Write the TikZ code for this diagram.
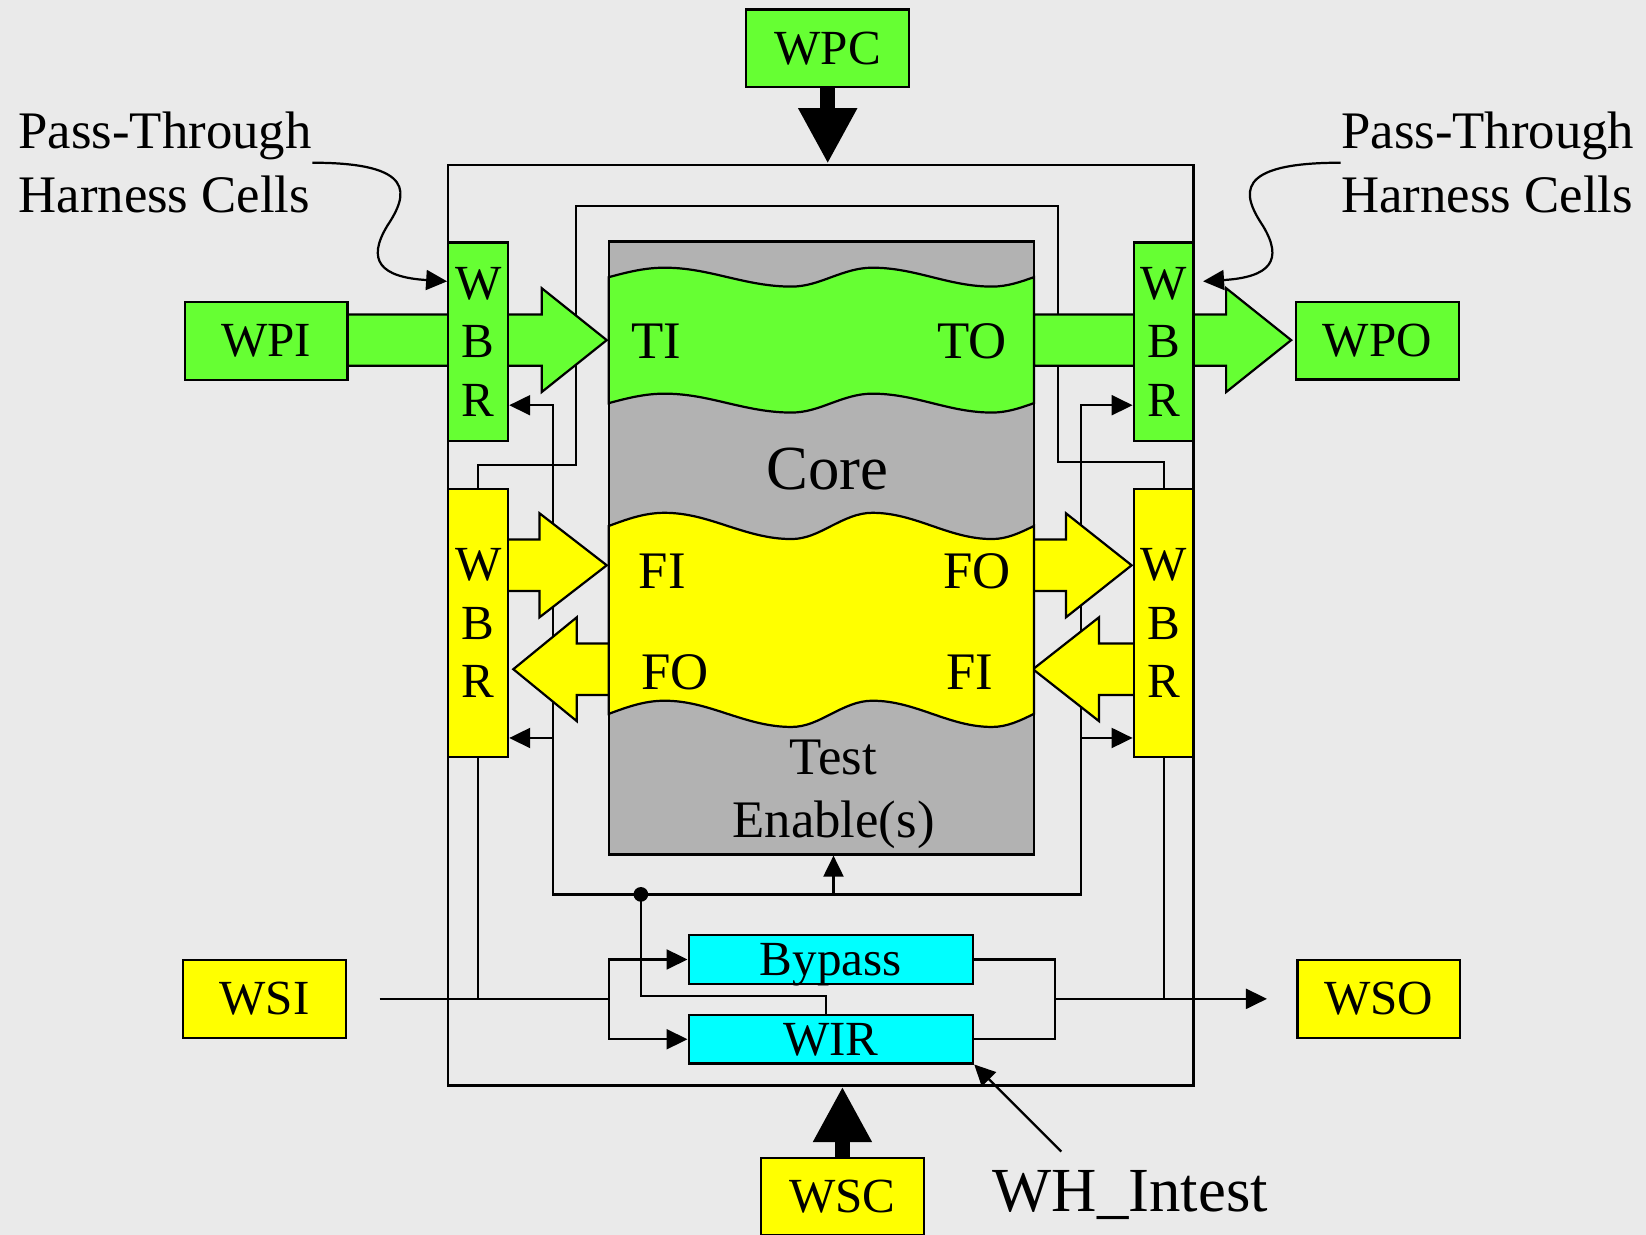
\documentclass[tikz,border=0pt]{standalone}
\usepackage{fontspec}
\setmainfont{Liberation Serif}
\usetikzlibrary{arrows.meta,positioning,calc,backgrounds}
\definecolor{paper}{RGB}{234,234,234}
\definecolor{lime}{RGB}{102,255,51}
\definecolor{sun}{RGB}{255,255,0}
\definecolor{aqua}{RGB}{0,255,255}
\definecolor{ash}{RGB}{178,178,178}
\pgfdeclarelayer{wires}
\pgfsetlayers{background,wires,main}
\tikzset{
  pin/.style={draw,line width=0.6pt,minimum width=15.5mm,minimum height=7.4mm,inner sep=0pt,font=\fontsize{13.3}{16}\selectfont},
  wbr/.style={draw,line width=0.6pt,minimum width=5.7mm,inner sep=0pt,align=center,font=\fontsize{13.3}{15.8}\selectfont},
  reg/.style={draw,line width=0.6pt,fill=aqua,minimum width=27.1mm,minimum height=4.6mm,inner sep=0pt,text depth=0pt,font=\fontsize{13.3}{16}\selectfont},
  blockarrow/.style={draw,line width=0.6pt,line join=miter},
  lbl/.style={inner sep=0pt,font=\fontsize{14.3}{17.4}\selectfont},
  wire/.style={line width=0.6pt},
  fatarrow/.style={line width=1.45mm,-{Triangle[length=5.3mm,width=5.25mm]}}
}
\begin{document}
\begin{tikzpicture}[x=0.1mm,y=-0.1mm,>={Triangle[length=2mm,width=1.9mm]},
    background rectangle/.style={fill=paper},show background rectangle,inner frame sep=0pt]
  \useasboundingbox (0,0) rectangle (1568,1176);
  \node[draw,line width=0.6pt,minimum width=71mm,minimum height=87.7mm,inner sep=0pt] (wrap) at (782,595.5) {};
  % data paths
  \foreach \xs/\xb/\xt/\y/\col in {331/516/578/324/lime,985/1168/1230/324/lime,470/514/578/538.5/sun,
      585/549.5/489/637.5/sun,980/1015.5/1078/538.5/sun,1090/1047/984/637.5/sun}
    \filldraw[blockarrow,fill=\col] (\xs,\y-24.5) -- (\xb,\y-24.5) -- (\xb,\y-49.5) -- (\xt,\y)
      -- (\xb,\y+49.5) -- (\xb,\y+24.5) -- (\xs,\y+24.5) -- cycle;
  \node[draw,line width=0.6pt,fill=ash,minimum width=40.5mm,minimum height=58.4mm,inner sep=0pt] (core) at (782.5,522) {};
  \foreach \t/\b/\a/\col in {264/384/9/lime,501/680/12.5/sun}
    \filldraw[line width=0.6pt,fill=\col] (580,\t) sin (633,\t-\a) cos (693,\t) sin (754,\t+\a) cos (792,\t)
      sin (831,\t-\a) cos (888,\t) sin (945,\t+\a) cos (985,\t) -- (985,\b) sin (945,\b+\a) cos (888,\b)
      sin (831,\b-\a) cos (792,\b) sin (754,\b+\a) cos (693,\b) sin (633,\b-\a) cos (580,\b) -- cycle;
  \node[lbl] (ti) at (625,325) {TI};
  \node[lbl] (to) at (926,325) {TO};
  \node[lbl,font=\fontsize{17}{20}\selectfont] (corelbl) at (788,447) {Core};
  \node[lbl] (fiL) at (631,544) {FI};
  \node[lbl] (foR) at (931,544) {FO};
  \node[lbl] (foL) at (643,640) {FO};
  \node[lbl] (fiR) at (924,640) {FI};
  \node[lbl,align=center,font=\fontsize{14.3}{17.1}\selectfont] (te) at (794,757) {Test\\Enable(s)};
  % wrapper boundary register
  \node[wbr,fill=lime,minimum height=18.9mm] (wbrTL) at (455.5,325.5) {W\\B\\R};
  \node[wbr,fill=lime,minimum height=18.9mm] (wbrTR) at (1108.5,325.5) {W\\B\\R};
  \node[wbr,fill=sun,minimum height=25.5mm] (wbrFL) at (455.5,593.5) {W\\B\\R};
  \node[wbr,fill=sun,minimum height=25.5mm] (wbrFR) at (1108.5,593.5) {W\\B\\R};
  % terminals
  \node[pin,fill=lime] (wpc) at (788.5,46) {WPC};
  \node[pin,fill=lime] (wpi) at (253.5,325) {WPI};
  \node[pin,fill=lime] (wpo) at (1312,324.5) {WPO};
  \node[pin,fill=sun] (wsi) at (252,951.5) {WSI};
  \node[pin,fill=sun] (wso) at (1313.5,951.5) {WSO};
  \node[pin,fill=sun] (wsc) at (802.5,1140) {WSC};
  \draw[fatarrow] (wpc.south) -- (wpc.south |- wrap.north);
  \draw[fatarrow] (wsc.north) -- (wsc.north |- wrap.south);
  \node[reg] (bypass) at (791.5,914) {Bypass};
  \node[reg] (wir) at (791.5,990) {WIR};
  % callouts
  \node[lbl,anchor=west,align=left] (ptl) at (17,155) {Pass-Through\\Harness Cells};
  \node[lbl,anchor=west,align=left] (ptr) at (1277,155) {Pass-Through\\Harness Cells};
  \draw[->,wire] (ptl.east) .. controls (397,155) and (389,185) .. (369,215)
    .. controls (349,248) and (362,264) .. (wbrTL.west |- 0,268);
  \draw[->,wire] (ptr.west) .. controls (1175,155) and (1183,185) .. (1203,215)
    .. controls (1223,248) and (1210,264) .. ($(wbrTR.east |- 0,268)+(8,0)$);
  \node[anchor=base west,inner sep=0pt,font=\fontsize{17}{20}\selectfont] (whintest) at (945,1154) {WH\_Intest};
  \coordinate (whtail) at (1011,1097);
  \draw[->,wire] (whtail) -- (wir.south east);
  \begin{pgfonlayer}{wires}
  \begin{scope}[wire]
    % scan chain
    \draw[shorten <=3.1mm] (wsi.east) -- (580,951.5);
    \draw[->] (580,951.5) |- (bypass.west);
    \draw[->] (580,951.5) |- (wir.west);
    \draw (wbrFL.south) -- (wbrFL.south |- wsi.east);
    \draw (wbrFL.north) |- (549,443) |- (1008,196) |- (1108.5,440) -- (wbrFR.north);
    \draw (wbrFR.south) -- (wbrFR.south |- wso.west);
    \draw (bypass.east) -| (1005,990) -- (wir.east);
    \draw[->,shorten >=2.8mm] (1005,951.5) -- (wso.west);
    % test enables
    \draw[<->] (wbrTL.east |- 0,386) -| (527,852) -| (1030,386) -- (wbrTR.west |- 0,386);
    \draw[->] (527,703) -- (wbrFL.east |- 0,703);
    \draw[->] (1030,703) -- (wbrFR.west |- 0,703);
    \draw[->] (794,852) -- (core.south -| 794,0);
    \draw ([xshift=-0.45mm]wir.north) |- (610.5,949) -- (610.5,852);
    \fill (610.5,852) circle (0.7mm);
  \end{scope}
  \end{pgfonlayer}
\end{tikzpicture}
\end{document}
